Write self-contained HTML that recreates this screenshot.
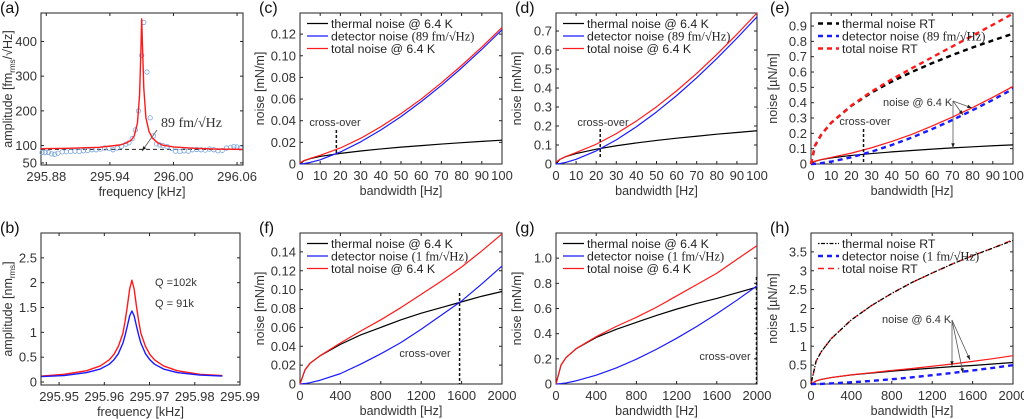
<!DOCTYPE html>
<html><head><meta charset="utf-8"><style>
html,body{margin:0;padding:0;background:#fff;}
svg{display:block;font-family:"Liberation Sans",sans-serif;}
.tk{font-size:13px;fill:#333;}
.al{font-size:12.5px;fill:#333;}
.lg{font-size:12.3px;fill:#222;}
.pl{font-size:16px;fill:#111;}
.an{font-size:11px;fill:#333;}
</style></head><body>
<svg id="fig" width="1024" height="419" viewBox="0 0 1024 419" xmlns="http://www.w3.org/2000/svg"></svg>
<script>
// ---------- data (a) ----------
const aFitFreq=[295.875,295.90,295.93,295.95,295.955,295.96,295.963,295.966,295.968,295.969,295.970,295.971,295.972,295.974,295.977,295.98,295.985,295.99,296.00,296.02,296.04,296.065];
const aFitAmp=[91,92,95,102,107,115,128,165,245,345,465,365,265,180,140,122,108,101,96,92,90,89];
const aDataFreq=[295.876,295.879,295.882,295.885,295.888,295.891,295.895,295.899,295.903,295.907,295.911,295.915,295.919,295.923,295.927,295.931,295.935,295.939,295.943,295.947,295.951,295.955,295.958,295.961,295.964,295.967,295.970,295.972,295.975,295.978,295.981,295.984,295.987,295.990,295.994,295.998,296.002,296.006,296.010,296.014,296.018,296.022,296.026,296.030,296.034,296.038,296.042,296.046,296.050,296.054,296.057,296.060,296.063];
const aDataAmp=[80,80,80,76,75,78,82,82,83,84,83,85,86,88,88,90,93,92,88,93,98,104,108,120,145,200,360,455,312,180,128,105,102,100,97,92,84,83,85,84,88,89,88,87,90,88,85,86,93,95,97,96,93];
const aBase=89;
// ---------- data (b) ----------
const bFreq=[295.9461,295.9511,295.9561,295.9591,295.9611,295.9621,295.9631,295.9641,295.9646,295.9651,295.9656,295.9661,295.9666,295.9671,295.9676,295.9681,295.9691,295.9701,295.9711,295.9731,295.9761,295.9811,295.9861];
const bRed=[0.12,0.155,0.228,0.324,0.448,0.552,0.717,0.976,1.227,1.53,1.87,2.05,1.87,1.53,1.227,0.976,0.717,0.552,0.448,0.324,0.228,0.155,0.13];
const bBlue=[0.11,0.13,0.19,0.261,0.359,0.445,0.570,0.78,0.94,1.13,1.33,1.43,1.33,1.13,0.94,0.78,0.570,0.445,0.359,0.261,0.19,0.14,0.12];
// ---------- data (c),(d),(e) bandwidth 0..100 ----------
const bwLow=[0,2,5,10,20,30,40,50,60,70,80,90,100];
const cThermal=[0,0.0031,0.0049,0.007,0.0098,0.012,0.0139,0.0156,0.017,0.0184,0.0197,0.0209,0.022];
const cDetector=[0,0.0004,0.0014,0.0039,0.0111,0.0204,0.0314,0.0438,0.0576,0.0726,0.0887,0.1059,0.124];
const cTotal=[0.001,0.0032,0.0051,0.008,0.0148,0.0237,0.0344,0.0465,0.060,0.075,0.091,0.108,0.126];
const dThermal=[0,0.025,0.039,0.055,0.078,0.096,0.111,0.124,0.136,0.146,0.157,0.166,0.175];
const dDetector=[0,0.002,0.0087,0.0245,0.069,0.127,0.196,0.274,0.360,0.454,0.555,0.662,0.775];
const dTotal=[0.01,0.025,0.040,0.060,0.104,0.160,0.226,0.301,0.385,0.477,0.577,0.683,0.795];
const eThermalRT=[0,0.12,0.19,0.269,0.38,0.466,0.538,0.601,0.658,0.711,0.760,0.806,0.85];
const eDetector=[0,0.0014,0.0055,0.0155,0.0438,0.0805,0.124,0.173,0.228,0.287,0.351,0.418,0.49];
const eTotalRT=[0,0.12,0.19,0.269,0.382,0.473,0.552,0.625,0.696,0.767,0.837,0.908,0.981];
const eThermal64=[0,0.018,0.028,0.040,0.056,0.068,0.079,0.088,0.097,0.105,0.112,0.119,0.125];
const eTotal64=[0.01,0.018,0.029,0.043,0.071,0.106,0.147,0.194,0.248,0.306,0.368,0.435,0.506];
// ---------- data (f),(g),(h) bandwidth 0..2000 ----------
const bwHigh=[0,50,100,200,400,600,800,1000,1200,1400,1600,1800,2000];
const fThermal=[0,0.015,0.022,0.030,0.042,0.052,0.060,0.068,0.075,0.081,0.087,0.093,0.098];
const fDetector=[0,0.0005,0.0014,0.004,0.011,0.021,0.032,0.044,0.058,0.073,0.088,0.106,0.125];
const fTotal=[0,0.015,0.022,0.030,0.0434,0.056,0.068,0.081,0.095,0.109,0.124,0.141,0.159];
const gThermal=[0,0.15,0.21,0.28,0.37,0.435,0.49,0.545,0.595,0.64,0.68,0.725,0.77];
const gDetector=[0,0.003,0.0087,0.025,0.07,0.128,0.197,0.276,0.363,0.457,0.558,0.666,0.78];
const gTotal=[0,0.15,0.21,0.281,0.376,0.458,0.53,0.61,0.70,0.79,0.88,0.99,1.10];
const hThermalRT=[0,0.6,0.85,1.2,1.7,2.08,2.4,2.69,2.94,3.18,3.4,3.6,3.8];
const hTotalRT=[0,0.6,0.85,1.2,1.7,2.08,2.4,2.69,2.94,3.18,3.4,3.6,3.82];
const hDetector=[0,0.001,0.003,0.016,0.045,0.082,0.126,0.177,0.232,0.293,0.358,0.427,0.5];
const hThermal64=[0,0.08,0.12,0.17,0.24,0.29,0.34,0.38,0.42,0.46,0.49,0.53,0.57];
const hTotal64=[0,0.08,0.12,0.17,0.245,0.30,0.36,0.41,0.47,0.53,0.60,0.67,0.75];
// ---------- ticks ----------
const aXTicks=[295.88,295.94,296.00,296.06];
const aXTickLabels=["295.88","295.94","296.00","296.06"];
const aYTicks=[50,100,200,300,400];
const bXTicks=[295.95,295.96,295.97,295.98,295.99];
const bYTicks=[0,0.5,1,1.5,2,2.5];
const lowXTicks=[0,10,20,30,40,50,60,70,80,90,100];
const highXTicks=[0,400,800,1200,1600,2000];
const cYTicks=[0,0.02,0.04,0.06,0.08,0.10,0.12];
const cYLabels=["0","0.02","0.04","0.06","0.08","0.10","0.12"];
const dYTicks=[0,0.1,0.2,0.3,0.4,0.5,0.6,0.7];
const eYTicks=[0,0.1,0.2,0.3,0.4,0.5,0.6,0.7,0.8,0.9];
const fYTicks=[0,0.02,0.04,0.06,0.08,0.10,0.12,0.14];
const fYLabels=["0","0.02","0.04","0.06","0.08","0.10","0.12","0.14"];
const gYTicks=[0,0.2,0.4,0.6,0.8,1.0];
const gYLabels=["0","0.2","0.4","0.6","0.8","1.0"];
const hYTicks=[0,0.5,1,1.5,2,2.5,3,3.5];

const NS="http://www.w3.org/2000/svg";
const svg=document.getElementById('fig');
function mk(tag,attrs,parent){const e=document.createElementNS(NS,tag);for(const k in attrs)e.setAttribute(k,attrs[k]);(parent||svg).appendChild(e);return e;}

function makePanel(id,box,xd,yd){
  const g=mk('g',{});
  
  
  const sx=v=>box.l+(v-xd[0])/(xd[1]-xd[0])*(box.r-box.l);
  const sy=v=>box.b-(v-yd[0])/(yd[1]-yd[0])*(box.b-box.t);
  return {g,sx,sy,box};
}
function axes(P,xt,xl,yt,yl,xtitle,ytitle,label,ytitleX){
  const {g,sx,sy,box}=P;
  const frame=mk('rect',{x:box.l,y:box.t,width:box.r-box.l,height:box.b-box.t,fill:'none',stroke:'#222','stroke-width':1},g);
  
  
  xt.forEach((v,i)=>{
    const x=sx(v);
    mk('line',{x1:x,x2:x,y1:box.b,y2:box.b-3,stroke:'#222'},g);
    mk('line',{x1:x,x2:x,y1:box.t,y2:box.t+3,stroke:'#222'},g);
    const t=mk('text',{x:x,y:box.b+16,'text-anchor':'middle',class:'tk'},g);
    t.textContent=xl?xl[i]:String(v);
    
    
  });
  yt.forEach((v,i)=>{
    const y=sy(v);
    mk('line',{x1:box.l,x2:box.l+3,y1:y,y2:y,stroke:'#222'},g);
    mk('line',{x1:box.r,x2:box.r-3,y1:y,y2:y,stroke:'#222'},g);
    const t=mk('text',{x:box.l-4,y:y+4.5,'text-anchor':'end',class:'tk'},g);
    t.textContent=yl?yl[i]:String(v);
    
    
  });
  const xtE=mk('text',{x:(box.l+box.r)/2,y:box.b+31,'text-anchor':'middle',class:'al'},g);
  xtE.textContent=xtitle;
  
  
  const cy=(box.t+box.b)/2;
  const ytE=mk('text',{x:0,y:0,'text-anchor':'middle',class:'al',transform:`translate(${ytitleX},${cy}) rotate(-90)`},g);
  ytE.innerHTML=ytitle;
  
  
  const pl=mk('text',{x:box.l-41,y:box.t-0,class:'pl'},g);
  pl.textContent=label;
  
  
}
function series(P,xs,ys,style,name){
  const d=xs.map((x,i)=>(i?'L':'M')+P.sx(x).toFixed(2)+','+P.sy(ys[i]).toFixed(2)).join('');
  const p=mk('path',Object.assign({d:d,fill:'none','stroke-linejoin':'round'},style),P.g);
  
  
  return p;
}
function legend(P,items){
  const {g,box}=P;
  items.forEach((it,i)=>{
    const y=box.t+10.5+i*12.5;
    mk('line',Object.assign({x1:box.l+7,x2:box.l+28,y1:y,y2:y},it.style),g);
    const t=mk('text',{x:box.l+31,y:y+4.3,class:'lg'},g);
    t.innerHTML=it.text;
    
    
  });
}
function det(v){return `detector noise <tspan font-family="Liberation Serif" font-size="12.5">(${v} fm/√Hz)</tspan>`;}
function txt(P,x,y,s,cls,name,fill){const t=mk('text',{x:x,y:y,class:cls||'an'},P.g);if(fill)t.setAttribute('fill',fill);t.innerHTML=s;return t;}
function crossover(P,xv,y1,y2,tx,ty,anchor){
  const l=mk('line',{x1:P.sx(xv),x2:P.sx(xv),y1:y1,y2:y2,stroke:'#111','stroke-width':1.5,'stroke-dasharray':'3 2'},P.g);
  
  
  const t=txt(P,tx,ty,'cross-over','an','cross-over-label');
  t.setAttribute('text-anchor',anchor||'middle');
}
function arrow(g,x1,y1,x2,y2,col){
  mk('line',{x1,y1,x2,y2,stroke:col||'#555','stroke-width':0.8},g);
  const a=Math.atan2(y2-y1,x2-x1),L=5;
  const p=[[x2,y2],[x2-L*Math.cos(a-0.35),y2-L*Math.sin(a-0.35)],[x2-L*Math.cos(a+0.35),y2-L*Math.sin(a+0.35)]];
  mk('polygon',{points:p.map(q=>q.join(',')).join(' '),fill:'#222'},g);
}
const K={stroke:'#000','stroke-width':1.2},B={stroke:'#1a1aff','stroke-width':1.2},R={stroke:'#ff1a1a','stroke-width':1.2};

// (a)
const A=makePanel('a',{l:41,r:243,t:13,b:165},[295.875,296.0656],[44,482]);
axes(A,aXTicks,aXTickLabels,aYTicks,null,'frequency [kHz]','amplitude [fm<tspan font-size="8" dy="3">rms</tspan><tspan dy="-3">/√Hz]</tspan>','(a)',12);
const base=mk('line',{x1:41,x2:243,y1:A.sy(aBase),y2:A.sy(aBase),stroke:'#222','stroke-width':1,'stroke-dasharray':'4 3'},A.g);


aDataFreq.forEach((f,i)=>{
  const c=mk('circle',{cx:A.sx(f),cy:A.sy(aDataAmp[i]),r:2.2,fill:'none',stroke:'#7aa6e0','stroke-width':0.8},A.g);
  
  
});
series(A,aFitFreq,aFitAmp,{stroke:'#ff1a1a','stroke-width':1.4},'lorentzian-fit');
txt(A,161,127,'89 fm/√Hz','an','baseline-annotation').setAttribute('style','font-family:"Liberation Serif";font-size:14px');
arrow(A.g,157,130,142,151,'#555');

// (b)
const Bp=makePanel('b',{l:41,r:240,t:233,b:385},[295.946,295.99],[-0.06,3.0]);
axes(Bp,bXTicks,null,bYTicks,null,'frequency [kHz]','amplitude [nm<tspan font-size="8" dy="3">rms</tspan><tspan dy="-3">]</tspan>','(b)',12);
series(Bp,bFreq,bRed,{stroke:'#ff1a1a','stroke-width':1.4},'q102k-curve');
series(Bp,bFreq,bBlue,{stroke:'#1a1aff','stroke-width':1.4},'q91k-curve');
txt(Bp,155,286,'Q =102k','an','q102k-label','#ff1a1a').setAttribute('font-size','12');
txt(Bp,155,307,'Q = 91k','an','q91k-label','#1a1aff').setAttribute('font-size','12');

// (c)
const C=makePanel('c',{l:300,r:502,t:13,b:164},[0,100],[0,0.1395]);
axes(C,lowXTicks,null,cYTicks,cYLabels,'bandwidth [Hz]','noise [mN/m]','(c)',264);
series(C,bwLow,cThermal,K,'thermal-noise-line');
series(C,bwLow,cDetector,B,'detector-noise-line');
series(C,bwLow,cTotal,R,'total-noise-line');
legend(C,[{style:K,text:'thermal noise @ 6.4 K'},{style:B,text:det(89)},{style:R,text:'total noise @ 6.4 K'}]);
crossover(C,18,130,155,335,126);

// (d)
const D=makePanel('d',{l:556,r:757,t:13,b:164},[0,100],[0,0.795]);
axes(D,lowXTicks,null,dYTicks,null,'bandwidth [Hz]','noise [mN/m]','(d)',521);
series(D,bwLow,dThermal,K,'thermal-noise-line');
series(D,bwLow,dDetector,B,'detector-noise-line');
series(D,bwLow,dTotal,R,'total-noise-line');
legend(D,[{style:K,text:'thermal noise @ 6.4 K'},{style:B,text:det(89)},{style:R,text:'total noise @ 6.4 K'}]);
crossover(D,22,129,158,603,126);

// (e)
const E=makePanel('e',{l:811,r:1013,t:13,b:164},[0,100],[0,0.985]);
axes(E,lowXTicks,null,eYTicks,null,'bandwidth [Hz]','noise [µN/m]','(e)',777);
const KD={stroke:'#000','stroke-width':2.4,'stroke-dasharray':'5 4'},BD={stroke:'#1a1aff','stroke-width':2.4,'stroke-dasharray':'5 4'},RD={stroke:'#ff1a1a','stroke-width':2.4,'stroke-dasharray':'5 4'};
series(E,bwLow,eThermal64,K,'thermal-noise-6.4k-line');
series(E,bwLow,eTotal64,R,'total-noise-6.4k-line');
series(E,bwLow,eDetector,BD,'detector-noise-line');
series(E,bwLow,eThermalRT,KD,'thermal-noise-rt-line');
series(E,bwLow,eTotalRT,RD,'total-noise-rt-line');
legend(E,[{style:KD,text:'thermal noise RT'},{style:BD,text:det(89)},{style:RD,text:'total noise RT'}]);
crossover(E,26,129,163,865,125);
txt(E,883,106,'noise @ 6.4 K','an','noise-6.4k-annotation');
arrow(E.g,953,101,972,108);arrow(E.g,953,101,963,115);arrow(E.g,953,101,953,148);

// (f)
const F=makePanel('f',{l:300,r:502,t:233,b:384},[0,2000],[0,0.16]);
axes(F,highXTicks,null,fYTicks,fYLabels,'bandwidth [Hz]','noise [mN/m]','(f)',264);
series(F,bwHigh,fThermal,K,'thermal-noise-line');
series(F,bwHigh,fDetector,B,'detector-noise-line');
series(F,bwHigh,fTotal,R,'total-noise-line');
legend(F,[{style:K,text:'thermal noise @ 6.4 K'},{style:B,text:det(1)},{style:R,text:'total noise @ 6.4 K'}]);
crossover(F,1580,293,384,425,357);

// (g)
const G=makePanel('g',{l:556,r:757,t:233,b:384},[0,2000],[0,1.2]);
axes(G,highXTicks,null,gYTicks,gYLabels,'bandwidth [Hz]','noise [mN/m]','(g)',521);
series(G,bwHigh,gThermal,K,'thermal-noise-line');
series(G,bwHigh,gDetector,B,'detector-noise-line');
series(G,bwHigh,gTotal,R,'total-noise-line');
legend(G,[{style:K,text:'thermal noise @ 6.4 K'},{style:B,text:det(1)},{style:R,text:'total noise @ 6.4 K'}]);
crossover(G,1995,277,384,725,360);

// (h)
const H=makePanel('h',{l:811,r:1013,t:233,b:384},[0,2000],[0,4.0]);
axes(H,highXTicks,null,hYTicks,null,'bandwidth [Hz]','noise [µN/m]','(h)',777);
const KDD={stroke:'#000','stroke-width':1.2,'stroke-dasharray':'1.5 1.5 4 1.5'},RDH={stroke:'#ff1a1a','stroke-width':1.4,'stroke-dasharray':'6 4'},BDH={stroke:'#1a1aff','stroke-width':2.4,'stroke-dasharray':'5 4'};
series(H,bwHigh,hThermal64,K,'thermal-noise-6.4k-line');
series(H,bwHigh,hTotal64,R,'total-noise-6.4k-line');
series(H,bwHigh,hDetector,BDH,'detector-noise-line');
series(H,bwHigh,hTotalRT,RDH,'total-noise-rt-line');
series(H,bwHigh,hThermalRT,KDD,'thermal-noise-rt-line');
legend(H,[{style:KDD,text:'thermal noise RT'},{style:BDH,text:det(1)},{style:RDH,text:'total noise RT'}]);
txt(H,882,323,'noise @ 6.4 K','an','noise-6.4k-annotation');
arrow(H.g,952,320,952,366);arrow(H.g,952,320,963,373);arrow(H.g,952,320,970,360);
</script>
</body></html>
